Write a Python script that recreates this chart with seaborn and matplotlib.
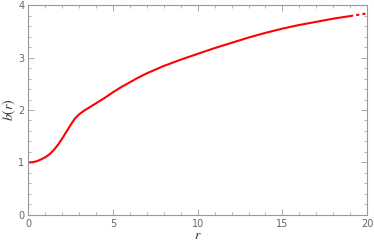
import matplotlib
matplotlib.use('Agg')
import matplotlib.pyplot as plt
import seaborn as sns
from matplotlib.ticker import MultipleLocator

# values
r_solid = [0, 0.25, 0.5, 0.75, 1, 1.25, 1.5, 1.75, 2, 2.25, 2.5, 2.75, 3, 3.25, 3.5, 3.75, 4,
           4.5, 5, 5.5, 6, 6.5, 7, 8, 9, 10, 11, 12, 13, 14, 15, 16, 17, 18, 19]
b_solid = [1.0, 1.005, 1.025, 1.06, 1.10, 1.16, 1.24, 1.34, 1.46, 1.59, 1.72, 1.84, 1.92, 1.98, 2.03, 2.08, 2.13,
           2.23, 2.34, 2.44, 2.53, 2.62, 2.70, 2.84, 2.96, 3.07, 3.18, 3.28, 3.38, 3.47, 3.55, 3.62, 3.68, 3.74, 3.79]
r_dotted = [19, 19.5, 20]
b_dotted = [3.79, 3.815, 3.84]

sns.set_style("ticks")
plt.rcParams['font.family'] = ['DejaVu Sans']
plt.rcParams['mathtext.fontset'] = 'stix'

fig = plt.figure(figsize=(3.74, 2.52), dpi=100)
ax = fig.add_axes([0.0762, 0.147, 0.905, 0.833])

sns.lineplot(x=r_solid, y=b_solid, ax=ax, color='red', linewidth=1.5, sort=False)
sns.lineplot(x=r_dotted, y=b_dotted, ax=ax, color='red', linewidth=1.5, linestyle=(0, (1.5, 1.5)), sort=False)

ax.set_xlim(0, 20)
ax.set_ylim(0, 4)
ax.xaxis.set_major_locator(MultipleLocator(5))
ax.xaxis.set_minor_locator(MultipleLocator(1))
ax.yaxis.set_major_locator(MultipleLocator(1))
ax.yaxis.set_minor_locator(MultipleLocator(0.2))

frame = '#999999'
for s in ax.spines.values():
    s.set_color(frame)
    s.set_linewidth(0.8)
ax.tick_params(which='both', direction='in', top=True, right=True, colors=frame,
               labelcolor='#666666', labelsize=7, pad=3)
ax.tick_params(which='major', length=4, width=0.6)
ax.tick_params(which='minor', length=2, width=0.5)

ax.set_xlabel('$r$', fontsize=10, color='#333333', labelpad=-1)
ax.set_ylabel('$b(r)$', fontsize=10, color='#333333', labelpad=0)

fig.savefig('out.png', dpi=100)
